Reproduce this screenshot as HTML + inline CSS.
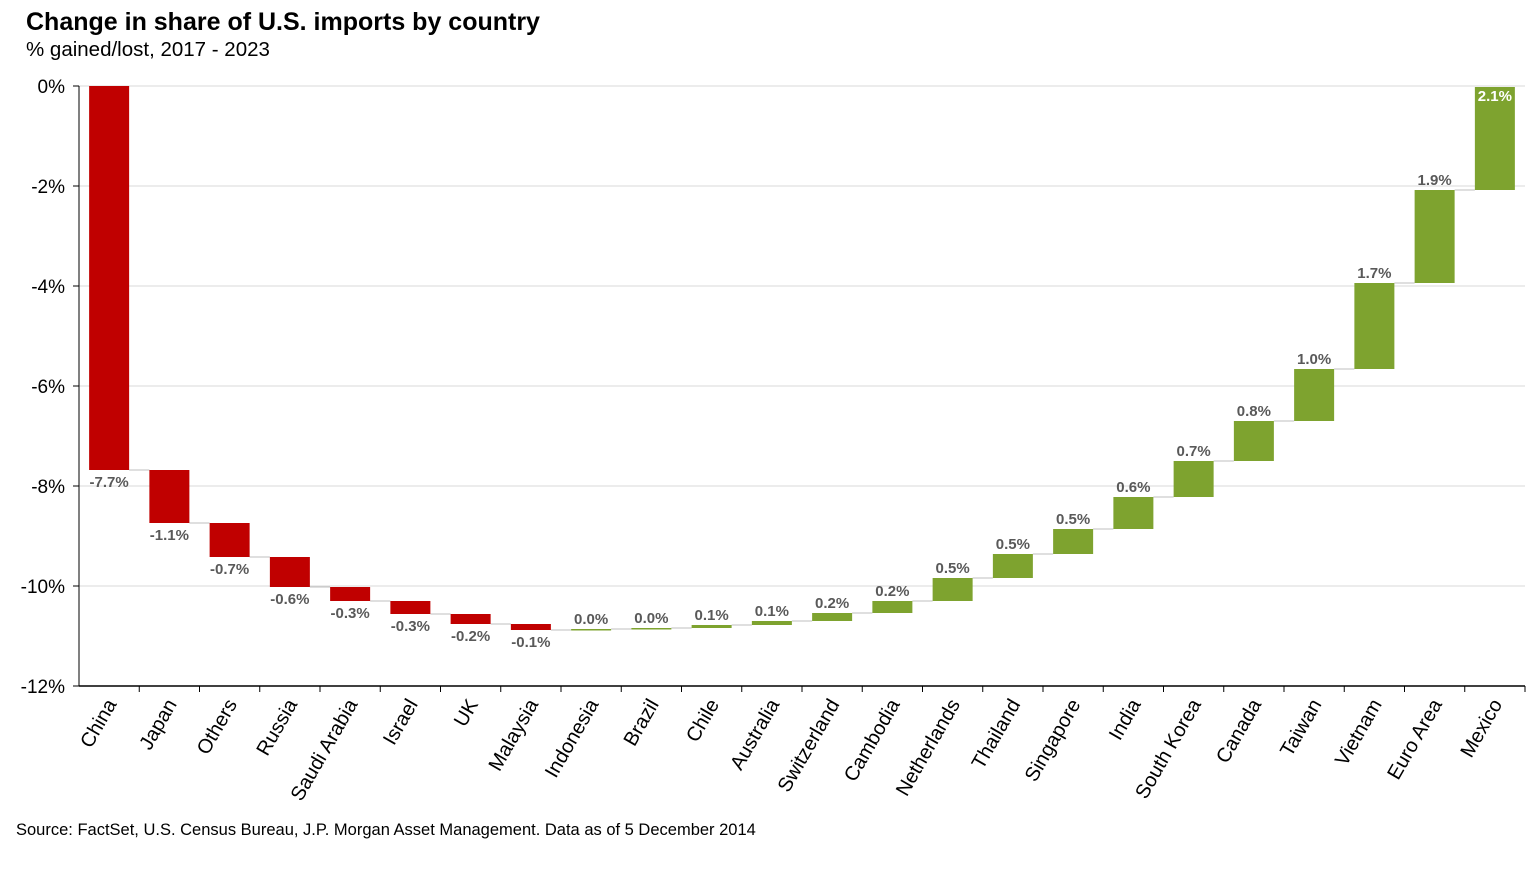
<!DOCTYPE html>
<html><head><meta charset="utf-8"><style>
body{margin:0;background:#fff;font-family:"Liberation Sans",Arial,sans-serif;}
svg text{font-family:"Liberation Sans",Arial,sans-serif;}
</style></head><body>
<svg id="chart" width="1540" height="885" xmlns="http://www.w3.org/2000/svg">
<text x="26" y="30" font-size="25" font-weight="bold" fill="#000">Change in share of U.S. imports by country</text>
<text x="26" y="56" font-size="20.5" fill="#000">% gained/lost, 2017 - 2023</text>
<text x="16" y="835" font-size="16.5" fill="#000">Source: FactSet, U.S. Census Bureau, J.P. Morgan Asset Management.  Data as of 5 December 2014</text>
<g id="grid"></g><g id="conn"></g><g id="bars"></g><g id="axes"></g>
</svg>
<script>
const categories=["China","Japan","Others","Russia","Saudi Arabia","Israel","UK","Malaysia","Indonesia","Brazil","Chile","Australia","Switzerland","Cambodia","Netherlands","Thailand","Singapore","India","South Korea","Canada","Taiwan","Vietnam","Euro Area","Mexico"];
const values=[-7.68,-1.06,-0.68,-0.6,-0.28,-0.26,-0.2,-0.12,0.02,0.02,0.06,0.08,0.16,0.24,0.46,0.48,0.5,0.64,0.72,0.8,1.04,1.72,1.86,2.06];
const valueLabels=["-7.7%","-1.1%","-0.7%","-0.6%","-0.3%","-0.3%","-0.2%","-0.1%","0.0%","0.0%","0.1%","0.1%","0.2%","0.2%","0.5%","0.5%","0.5%","0.6%","0.7%","0.8%","1.0%","1.7%","1.9%","2.1%"];
const yTicks=[0,-2,-4,-6,-8,-10,-12];
const yTickLabels=["0%","-2%","-4%","-6%","-8%","-10%","-12%"];
const NS="http://www.w3.org/2000/svg";
const L=79,R=1525,T=86,B=686,yMin=-12,yMax=0;
const y=v=>T+(yMax-v)/(yMax-yMin)*(B-T);
const step=(R-L)/categories.length;
const xc=i=>L+step*(i+0.5);
function mk(tag,parent,attrs){const e=document.createElementNS(NS,tag);for(const k in attrs)e.setAttribute(k,attrs[k]);document.getElementById(parent).appendChild(e);return e;}
yTicks.forEach((t,i)=>{
 if(t>yMin){const g=mk('line','grid',{x1:L,x2:R,y1:y(t),y2:y(t),stroke:'#d9d9d9','stroke-width':1});
 
 }
 const tx=mk('text','axes',{x:65,y:y(t)+7,'font-size':19,'text-anchor':'end',fill:'#000'});
 tx.textContent=yTickLabels[i];
 
 
});
let cum=0;
values.forEach((v,i)=>{
 const start=cum,end=cum+v;cum=end;
 const top=y(Math.max(start,end)),bot=y(Math.min(start,end));
 const r=mk('rect','bars',{x:xc(i)-20,y:top,width:40,height:Math.max(bot-top,1.5),fill:v<0?'#c00000':'#7ea32f'});
 
 
 if(i<values.length-1){const c=mk('line','conn',{x1:xc(i)+20,x2:xc(i+1)-20,y1:y(end),y2:y(end),stroke:'#bfbfbf','stroke-width':1});
 
 }
 let ly,col='#595959';
 if(v<0)ly=bot+17;else ly=top-5;
 if(i===values.length-1){ly=top+14;col='#fff';}
 const lt=mk('text','bars',{x:xc(i),y:ly,'font-size':15,'font-weight':'bold','text-anchor':'middle',fill:col});
 lt.textContent=valueLabels[i];
 
 
 const tk=mk('line','axes',{x1:L+step*(i+1),x2:L+step*(i+1),y1:B,y2:B+6,stroke:'#000'});
 
 
 const xl=mk('text','axes',{x:0,y:0,'font-size':20,'text-anchor':'end',fill:'#000',transform:`translate(${xc(i)+8},${B+18}) rotate(-60)`});
 xl.textContent=categories[i];
 
 
});
const ya=mk('line','axes',{x1:L,x2:L,y1:T,y2:B,stroke:'#000','stroke-width':1});


const xa=mk('line','axes',{x1:L,x2:R,y1:B,y2:B,stroke:'#000','stroke-width':1.5});


yTicks.forEach(t=>{const m=mk('line','axes',{x1:L-6,x2:L,y1:y(t),y2:y(t),stroke:'#000'});
 
 });
</script>
</body></html>
